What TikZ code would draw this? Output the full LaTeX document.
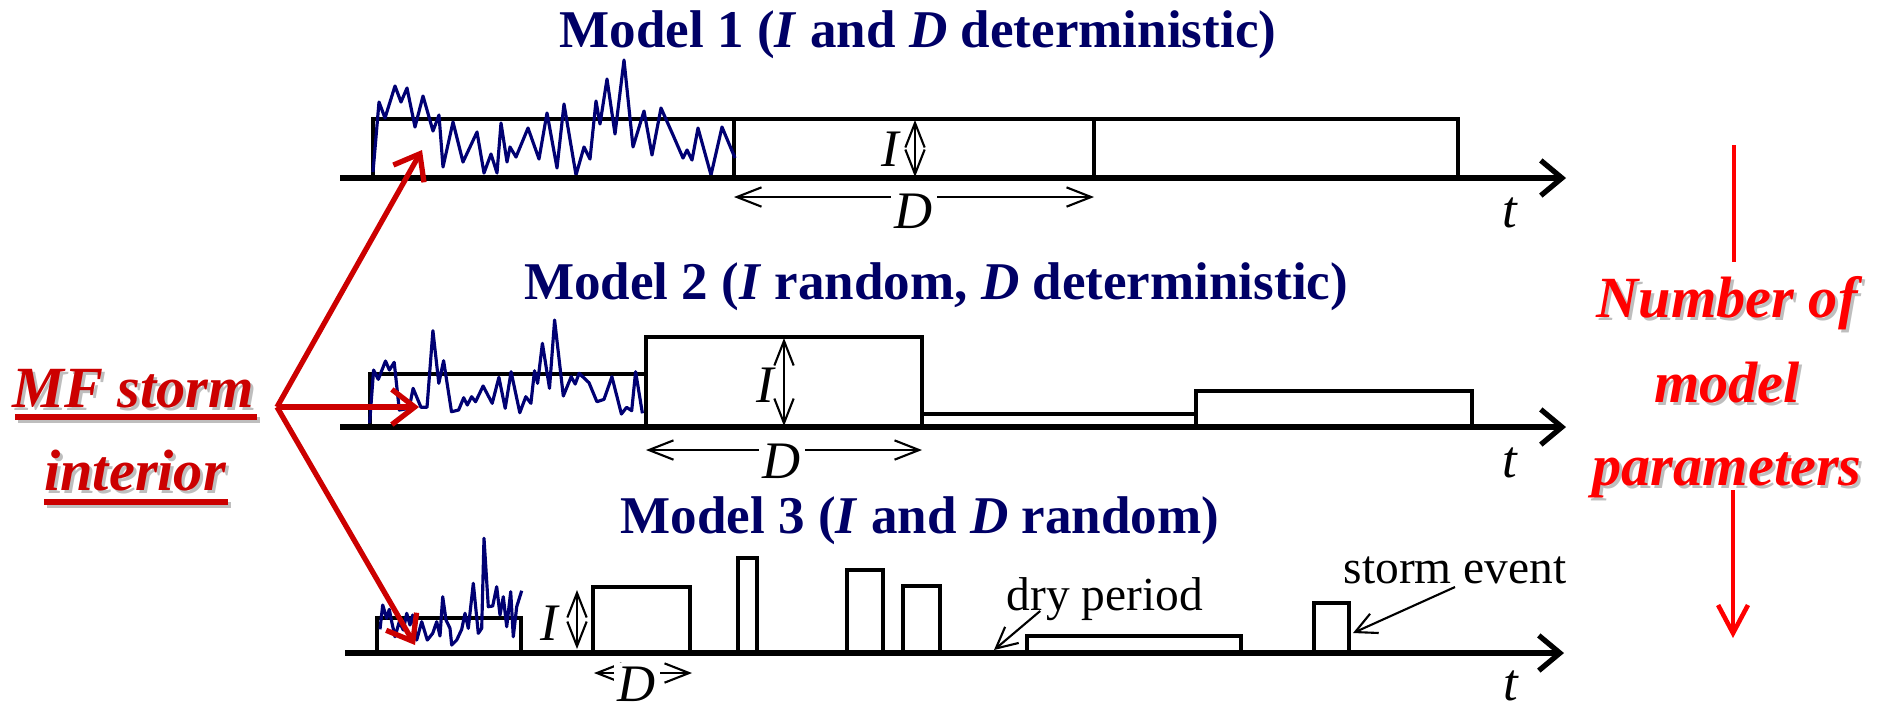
\documentclass[tikz,border=0pt]{standalone}
\usepackage{fontspec}
\setmainfont{Liberation Serif}
\usetikzlibrary{arrows.meta}
\definecolor{titlenavy}{RGB}{0,0,102}
\definecolor{noisenavy}{RGB}{0,0,115}
\definecolor{stormred}{RGB}{204,0,0}
\definecolor{paramred}{RGB}{255,0,0}
\definecolor{shadegray}{RGB}{190,190,190}

\begin{document}
\begin{tikzpicture}[x=0.1mm, y=-0.1mm,
    axis/.style={line width=1.5pt, -{Straight Barb[length=6pt,width=10pt]}},
    pulse/.style={line width=1.2pt},
    noise/.style={noisenavy, line width=0.9pt, line join=round},
    dim/.style={line width=0.6pt, {Straight Barb[length=7pt,width=5.5pt]}-{Straight Barb[length=7pt,width=5.5pt]}},
    pointer/.style={line width=0.6pt, -{Straight Barb[length=6pt,width=6pt]}},
    lbl/.style={font=\fontsize{15}{18}\selectfont\itshape, inner sep=1pt},
    title/.style={titlenavy, anchor=base, inner sep=0pt, font=\fontsize{15.1}{18}\selectfont\bfseries},
    note/.style={anchor=base, inner sep=0pt, font=\fontsize{13.5}{16}\selectfont},
    redarrow/.style={stormred, line width=1.5pt, -{Straight Barb[length=6.5pt,width=10pt]}},
    bigtxt/.style={anchor=base, inner sep=0pt, font=\fontsize{16.6}{20}\selectfont\bfseries\itshape}
]
\useasboundingbox (0,0) rectangle (1881,708);

% Model 1
\node[title] (title1) at (918,47) {Model 1 (\textit{I} and \textit{D} deterministic)};
\draw[pulse] (373,178) rectangle (734,119);
\draw[pulse] (734,178) rectangle (1094,119);
\draw[pulse] (1094,178) rectangle (1458,119);
\draw[noise] plot coordinates {(373,172) (379,102) (385,118) (395,86) (401,102) (407,88)
  (415,127) (423,96) (433,131) (439,115) (443,167) (453,122) (463,162) (477,132) (484,173)
  (491,154) (497,173) (501,123) (507,162) (510,147) (516,157) (528,128) (539,159) (547,113)
  (557,168) (564,104) (576,175) (584,147) (590,159) (596,101) (600,124) (607,79) (615,134)
  (624,60) (633,147) (644,111) (652,155) (661,108) (673,135) (683,158) (687,150) (692,160)
  (698,128) (711,175) (722,127) (735,158)};
\draw[axis] (340,178) -- (1566,178);
\draw[dim] (915,120) -- (915,177);
\node[lbl] (i1) at (890,149) {I};
\draw[dim] (734,197) -- (1094,197);
\node[lbl, fill=white] (d1) at (914,211) {D};
\node[lbl] (t1) at (1510,213) {t};

% Model 2
\node[title] (title2) at (936,299) {Model 2 (\textit{I} random, \textit{D} deterministic)};
\draw[pulse] (370,427) rectangle (646,374);
\draw[pulse] (646,427) rectangle (922,337);
\draw[pulse] (922,427) rectangle (1196,414);
\draw[pulse] (1196,427) rectangle (1472,391);
\draw[noise] plot coordinates {(369.6,423.3) (373.6,370) (378.3,379.3) (385.5,361) (389.4,370)
  (394.2,362.3) (399.3,410) (409.2,408.3) (413.1,388.3) (421,407.3) (427,407.3) (432.9,330.7)
  (438.8,383.3) (443.6,360.7) (451.5,411.7) (458.6,410) (463.7,397.7) (467.3,405) (471.6,396.7)
  (475.6,401.7) (483.1,386) (492.2,403.3) (498.9,377.3) (505.2,408.3) (511.1,371.7) (519.8,412.7)
  (525.8,396.7) (530.9,403.3) (534.5,370.7) (537.6,383.3) (542.4,343.3) (549.5,388.3) (554.6,320)
  (563.3,396) (571.2,376.7) (575.2,384) (579.1,373.3) (589,382.7) (596.9,401.7) (604,399.3)
  (611.9,376.7) (621.4,414) (626.6,407.3) (631.7,410.7) (635.6,371.7) (642.4,413.3)};
\draw[axis] (340,427) -- (1566,427);
\draw[dim] (784,338) -- (784,426);
\node[lbl] (i2) at (765,385) {I};
\draw[dim] (646,450) -- (922,450);
\node[lbl, fill=white] (d2) at (782,461) {D};
\node[lbl] (t2) at (1510,463) {t};

% Model 3
\node[title] (title3) at (920,533) {Model 3 (\textit{I} and \textit{D} random)};
\draw[pulse] (377,653) rectangle (521,618);
\draw[pulse] (593,653) rectangle (690,587);
\draw[pulse] (738,653) rectangle (757,558);
\draw[pulse] (847,653) rectangle (883,570);
\draw[pulse] (903,653) rectangle (940,586);
\draw[pulse] (1027,653) rectangle (1241,636);
\draw[pulse] (1314,653) rectangle (1349,603);
\draw[noise] plot coordinates {(380,629.3) (382.7,605) (386.7,618.3) (389.3,609.3) (391.7,621.7)
  (395,636.7) (399.3,621.7) (403.3,630) (406.7,613.3) (410,625) (412.7,615) (416.7,640)
  (421.7,621.7) (427.3,640) (432.7,633.3) (436.7,621.7) (440,636) (442.7,596.7) (446,620)
  (450,628.3) (451.7,645) (456.7,640) (461.7,629.3) (465,613.3) (468.3,628.3) (473.3,583.3)
  (478.3,633.3) (481.7,628.3) (484,538.3) (488.3,606.7) (492.7,606) (496.7,586.7) (500,615)
  (503.3,596.7) (506.7,626.7) (510.7,591.7) (513.3,636.7) (516.7,606.7) (521.7,590.7)};
\draw[axis] (345,653) -- (1564,653);
\draw[dim] (577,590) -- (577,649);
\node[lbl] (i3) at (549,623) {I};
\draw[dim] (594,673) -- (692,673);
\node[lbl, fill=white] (d3) at (637,684) {D};
\node[lbl] (t3) at (1511,686) {t};

% annotations
\node[note] (dry) at (1105,610) {dry period};
\coordinate (drytip) at (994,650);
\draw[pointer] ([xshift=3.4mm,yshift=-0.1mm]dry.base west) -- (drytip);
\node[note] (storm) at (1455,583) {storm event};
\coordinate (stormtip) at (1353,633);
\draw[pointer] ([yshift=-0.4mm]storm.base) -- (stormtip);

% MF storm interior
\node[bigtxt, shadegray] (mfshadow) at (136,410) {MF storm};
\node[bigtxt, shadegray] (intshadow) at (138,493) {interior};
\draw[shadegray, line width=1.5pt] (18,420) -- (260,420) (47,505) -- (231,505);
\node[bigtxt, stormred] (mf) at (133,407) {MF storm};
\node[bigtxt, stormred] (interior) at (135,490) {interior};
\draw[stormred, line width=1.5pt] (15,417) -- (257,417) (44,502) -- (228,502);
\coordinate (split) at (277,407);
\coordinate (in1) at (422,150);
\coordinate (in2) at (419,407);
\coordinate (in3) at (415,645);
\draw[redarrow] (split) -- (in1);
\draw[redarrow] (split) -- (in2);
\draw[redarrow] (split) -- (in3);

% Number of model parameters
\foreach \word/\yy [count=\i] in {Number of/317, model/402, parameters/485} {
  \node[bigtxt, shadegray] (numshadow\i) at (1730,\yy+3) {\word};
  \node[bigtxt, paramred] (num\i) at (1727,\yy) {\word};
}
\coordinate (ptop) at (1734,145);
\coordinate (pmid) at (1734,262);
\coordinate (pfrom) at (1733,490);
\coordinate (pto) at (1733,638);
\draw[paramred, line width=1.3pt] (ptop) -- (pmid);
\draw[paramred, line width=1.3pt, -{Straight Barb[length=8pt,width=8.5pt]}] (pfrom) -- (pto);
\end{tikzpicture}
\end{document}
